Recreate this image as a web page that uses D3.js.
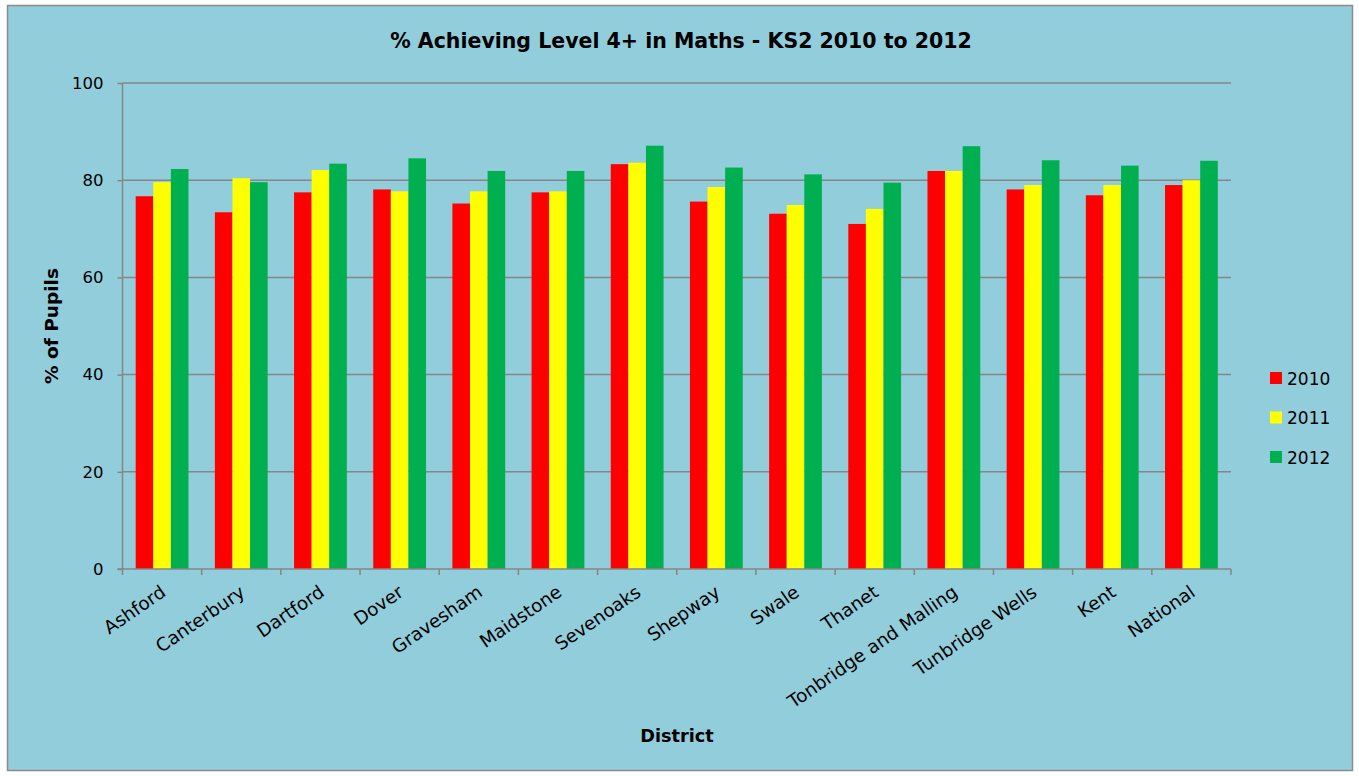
<!DOCTYPE html>
<html><head><meta charset="utf-8">
<script src="https://cdn.jsdelivr.net/npm/d3@7/dist/d3.min.js"></script>
<style>body{margin:0;background:#fff;}svg{display:block;}</style>
</head><body>
<svg id="chart" width="1359" height="776"></svg>
<script>
const categories = ["Ashford","Canterbury","Dartford","Dover","Gravesham","Maidstone","Sevenoaks","Shepway","Swale","Thanet","Tonbridge and Malling","Tunbridge Wells","Kent","National"];
const seriesNames = ["2010","2011","2012"];
const values2010 = [76.7,73.4,77.5,78.1,75.2,77.5,83.3,75.6,73.1,71.0,81.9,78.1,76.9,79.0];
const values2011 = [79.6,80.4,82.1,77.7,77.7,77.7,83.6,78.6,74.9,74.1,81.9,79.0,79.0,80.0];
const values2012 = [82.3,79.6,83.4,84.5,81.9,81.9,87.1,82.6,81.2,79.5,87.0,84.1,83.0,84.0];
const yTicks = [0,20,40,60,80,100];
const colors = ["#FF0000","#FFFF00","#00B050"];

const svg = d3.select("#chart");
const font = "DejaVu Sans, Verdana, sans-serif";
const bg = "#92CDDC";
svg.append("rect").attr("x",7.5).attr("y",5.5).attr("width",1345).attr("height",765)
  .attr("fill",bg).attr("stroke","#8c8c8c").attr("stroke-width",1.5);

const m = {left:122.5, right:1231, top:83, bottom:569};
const x = d3.scaleBand().domain(categories).range([m.left,m.right]);
const y = d3.scaleLinear().domain([0,100]).range([m.bottom,m.top]);
const bw = x.bandwidth()/(3+1.5);
const sub = d3.scaleBand().domain(seriesNames).range([0,bw*3]);

// gridlines
svg.append("g").selectAll("line").data(yTicks.filter(d=>d>0)).join("line")
  .attr("x1",m.left).attr("x2",m.right).attr("y1",d=>y(d)).attr("y2",d=>y(d))
  .attr("stroke","#868686").attr("stroke-width",1.5);

const all = [values2010, values2011, values2012];
seriesNames.forEach((s,i)=>{
  svg.append("g").selectAll("rect").data(categories).join("rect")
    .attr("x",(c)=>x(c)+bw*0.75+sub(s))
    .attr("width",sub.bandwidth())
    .attr("y",(c,j)=>y(all[i][j]))
    .attr("height",(c,j)=>y(0)-y(all[i][j]))
    .attr("fill",colors[i]);
});

// y axis
const yAxis = svg.append("g").attr("transform",`translate(${m.left},0)`)
  .call(d3.axisLeft(y).tickValues(yTicks).tickSize(5).tickPadding(14));
yAxis.select(".domain").attr("stroke","#868686").attr("stroke-width",1.5).attr("d",`M0,${m.top}V${m.bottom}`);
yAxis.selectAll(".tick line").attr("stroke","#868686").attr("stroke-width",1.5);
yAxis.selectAll("text").attr("font-family",font).attr("font-size",16.5).attr("fill","#000");

// x axis line and ticks
svg.append("line").attr("x1",m.left-5).attr("x2",m.right).attr("y1",m.bottom).attr("y2",m.bottom)
  .attr("stroke","#868686").attr("stroke-width",1.5);
const bounds = categories.map(c=>x(c)).concat([m.right]);
svg.append("g").selectAll("line").data(bounds).join("line")
  .attr("x1",d=>d).attr("x2",d=>d).attr("y1",m.bottom).attr("y2",m.bottom+6)
  .attr("stroke","#868686").attr("stroke-width",1.5);
svg.append("g").selectAll("text").data(categories).join("text")
  .attr("transform",c=>`translate(${x(c)+x.bandwidth()/2+5},${m.bottom+26}) rotate(-34.5)`)
  .attr("text-anchor","end").attr("font-family",font).attr("font-size",18.3).attr("fill","#000")
  .text(c=>c);

// titles
svg.append("text").attr("x",681).attr("y",48).attr("text-anchor","middle")
  .attr("font-family",font).attr("font-weight","bold").attr("font-size",20.5).text("% Achieving Level 4+ in Maths - KS2 2010 to 2012");
svg.append("text").attr("x",677).attr("y",742).attr("text-anchor","middle")
  .attr("font-family",font).attr("font-weight","bold").attr("font-size",17.7).text("District");
svg.append("text").attr("transform",`translate(58,326) rotate(-90)`).attr("text-anchor","middle")
  .attr("font-family",font).attr("font-weight","bold").attr("font-size",18.5).text("% of Pupils");

// legend
const lg = svg.append("g").selectAll("g").data(seriesNames).join("g")
  .attr("transform",(d,i)=>`translate(1270,${372+i*39.5})`);
lg.append("rect").attr("width",12).attr("height",12).attr("fill",(d,i)=>colors[i]);
lg.append("text").attr("x",17).attr("y",12.5).attr("font-family",font).attr("font-size",17).text(d=>d);
</script>
</body></html>
